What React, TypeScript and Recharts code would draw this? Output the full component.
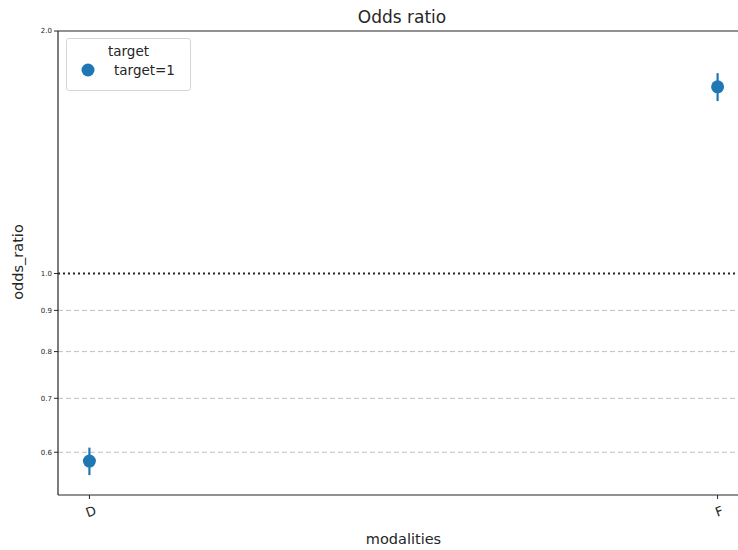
import {
  ComposedChart,
  ErrorBar,
  ReferenceLine,
  Scatter,
  XAxis,
  YAxis,
} from "recharts";

const categories = ["D", "F"];
const oddsRatios = [0.585, 1.705];
const ciLow = [0.562, 1.637];
const ciHigh = [0.608, 1.773];
const gridTicks = [0.6, 0.7, 0.8, 0.9];
const yTicks = [0.6, 0.7, 0.8, 0.9, 1.0, 2.0];

const BLUE = "#1f77b4";
const FONT = "DejaVu Sans, sans-serif";

const rows = categories.map((c, i) => ({
  x: i,
  name: c,
  odds: oddsRatios[i],
  err: [oddsRatios[i] - ciLow[i], ciHigh[i] - oddsRatios[i]],
}));

function LegendBox() {
  return (
    <div
      style={{
        position: "absolute",
        left: 66,
        top: 38,
        width: 125,
        height: 53,
        border: "1px solid #d6d6d6",
        borderRadius: 3,
        background: "rgba(255,255,255,0.8)",
        fontFamily: FONT,
        color: "#262626",
        boxSizing: "border-box",
      }}
    >
      <div style={{ textAlign: "center", fontSize: 13.5, marginTop: 4 }}>target</div>
      <div style={{ display: "flex", alignItems: "center", fontSize: 13.5, marginTop: 3 }}>
        <svg width={40} height={16}>
          <circle cx={21} cy={8} r={6.5} fill={BLUE} />
        </svg>
        <span style={{ marginLeft: 7 }}>target=1</span>
      </div>
    </div>
  );
}

export default function App() {
  return (
    <div
      style={{
        position: "fixed",
        left: 0,
        top: 0,
        width: 738,
        height: 550,
        overflow: "hidden",
        background: "#fff",
      }}
    >
      <ComposedChart
        width={760}
        height={550}
        data={rows}
        margin={{ top: 31, right: 11, left: 28, bottom: 25 }}
      >
        <text
          x={402}
          y={23}
          textAnchor="middle"
          fontFamily={FONT}
          fontSize={17}
          fill="#262626"
        >
          Odds ratio
        </text>
        <text
          x={23}
          y={262}
          textAnchor="middle"
          fontFamily={FONT}
          fontSize={14.5}
          fill="#262626"
          transform="rotate(-90 23 262)"
        >
          odds_ratio
        </text>
        <XAxis
          dataKey="x"
          type="number"
          domain={[-0.05, 1.05]}
          ticks={[0, 1]}
          tickFormatter={(v) => categories[v] ?? ""}
          allowDataOverflow
          height={30}
          angle={-20}
          textAnchor="middle"
          dy={6}
          tick={{ fontSize: 13, fill: "#262626", fontFamily: FONT }}
          tickSize={4}
          stroke="#262626"
          axisLine={{ stroke: "#262626", strokeWidth: 1.2 }}
          label={{
            value: "modalities",
            position: "insideBottom",
            offset: -19,
            fontFamily: FONT,
            fontSize: 14.5,
            fill: "#262626",
          }}
        />
        <YAxis
          type="number"
          scale="log"
          domain={[0.531, 2.0]}
          ticks={yTicks}
          tickFormatter={(v) => Number(v).toFixed(1)}
          allowDataOverflow
          width={30}
          tickSize={4}
          tick={{ fontSize: 7, fill: "#262626", fontFamily: FONT }}
          stroke="#262626"
          axisLine={{ stroke: "#262626", strokeWidth: 1.2 }}
        />
        <ReferenceLine
          y={2.0}
          stroke="#262626"
          strokeWidth={1.2}
          ifOverflow="visible"
        />
        {gridTicks.map((t) => (
          <ReferenceLine
            key={t}
            y={t}
            stroke="#c0c0c0"
            strokeDasharray="5 3"
            strokeWidth={1}
          />
        ))}
        <ReferenceLine y={1.0} stroke="#262626" strokeDasharray="2 3" strokeWidth={2} />
        <Scatter
          dataKey="odds"
          fill={BLUE}
          isAnimationActive={false}
          shape={(p: any) => <circle cx={p.cx} cy={p.cy} r={6.5} fill={BLUE} />}
        >
          <ErrorBar dataKey="err" direction="y" width={0} stroke={BLUE} strokeWidth={2.2} />
        </Scatter>
      </ComposedChart>
      <LegendBox />
    </div>
  );
}
